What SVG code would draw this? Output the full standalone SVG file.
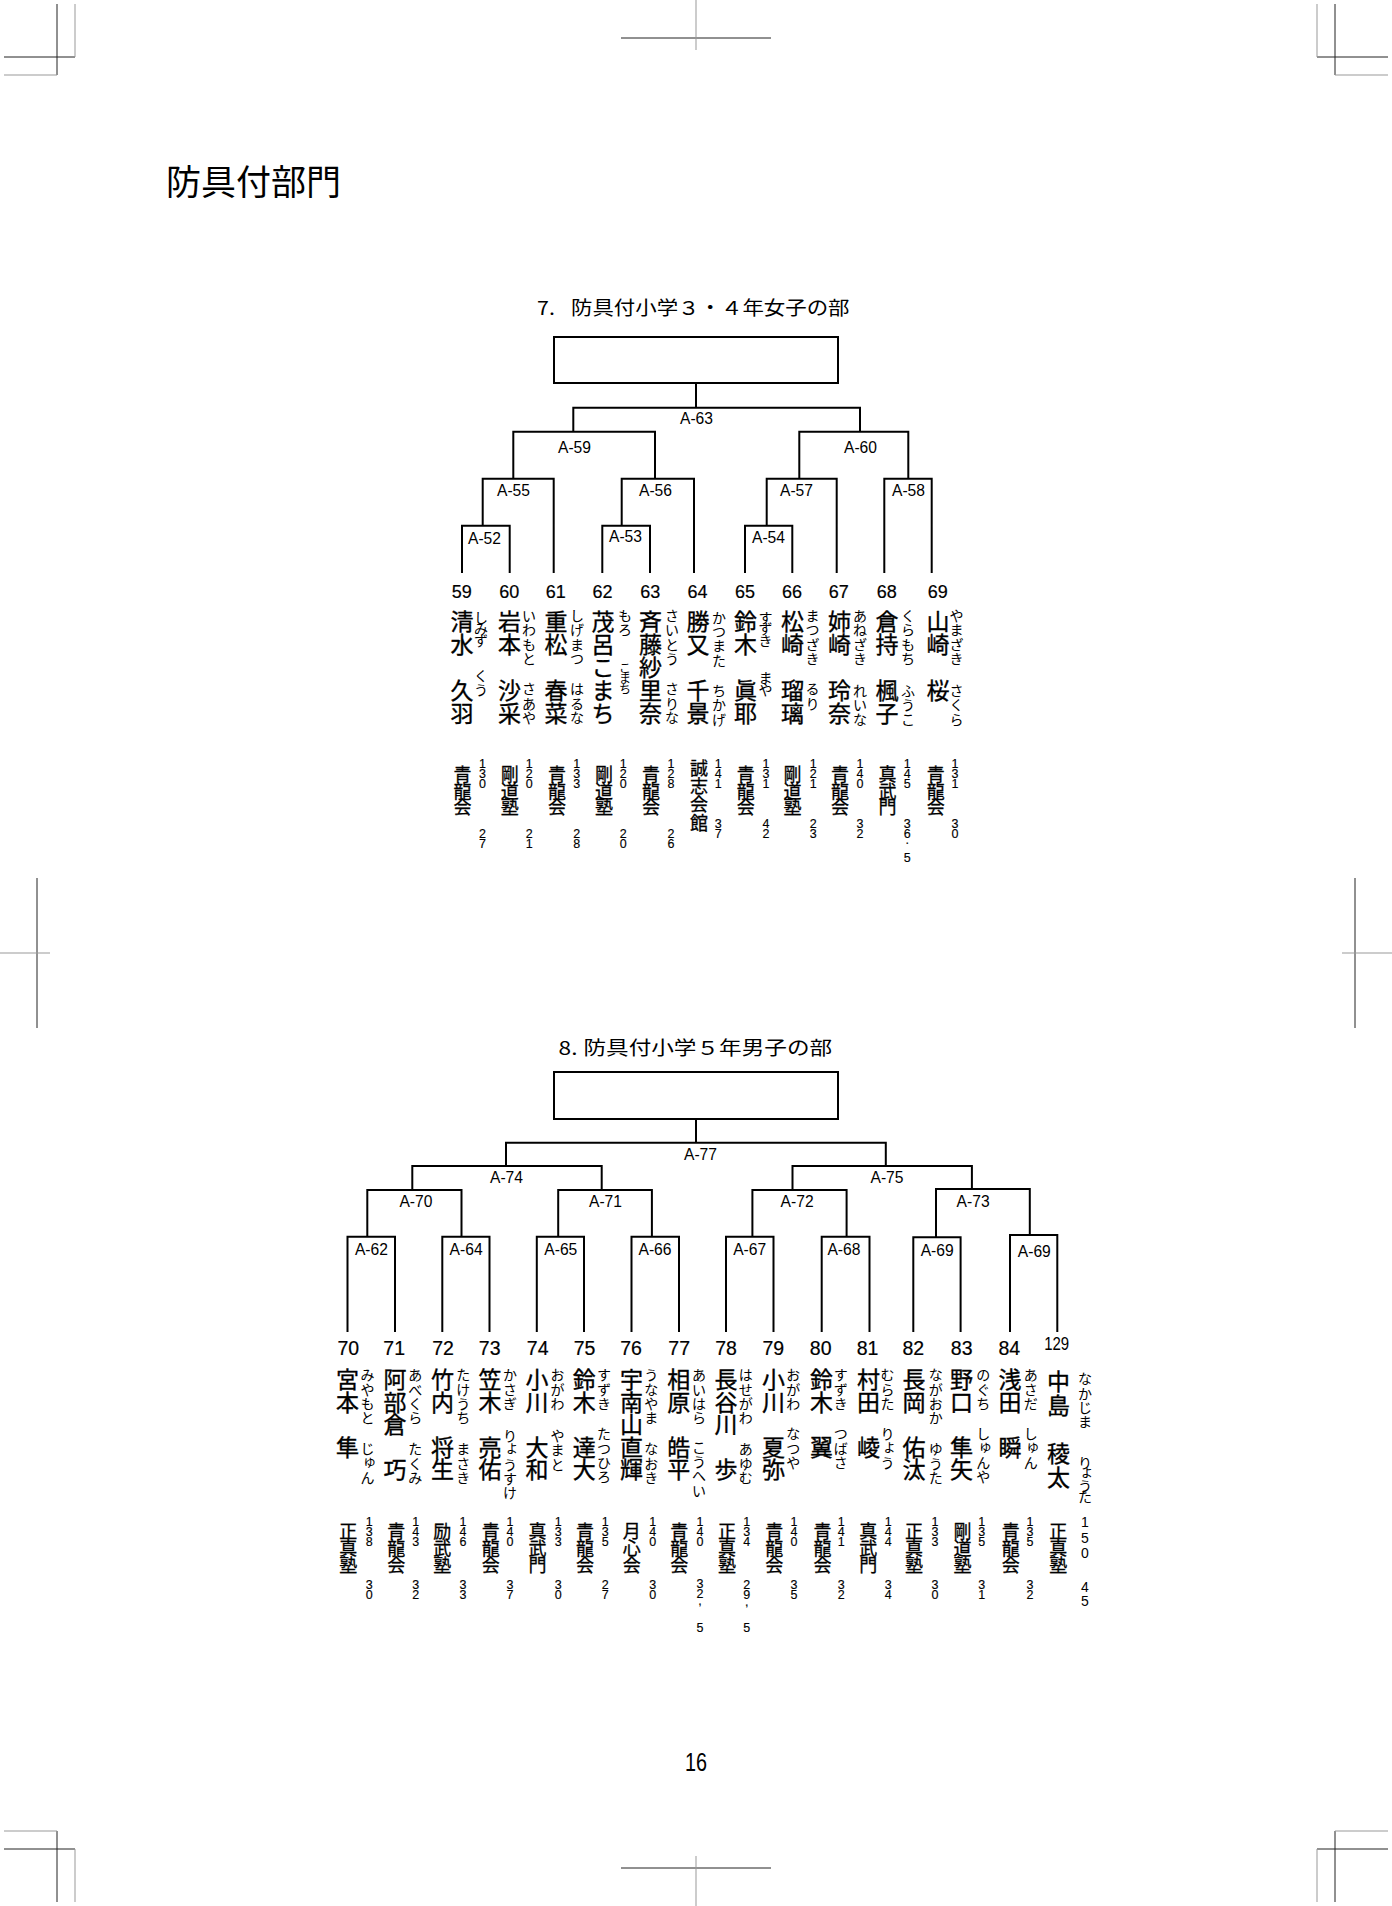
<svg xmlns="http://www.w3.org/2000/svg" width="1392" height="1906" viewBox="0 0 1392 1906">
<style>
.ln{fill:none;stroke:#000;stroke-width:2}
.cm{fill:none;stroke:#222;stroke-width:1}
.cg{fill:none;stroke:#999;stroke-width:1}
.jp{font-family:"Noto Sans CJK JP","Noto Sans CJK SC",sans-serif;fill:#000}
.nm{font-size:23px;text-anchor:middle;stroke:#000;stroke-width:0.35px}
.fu{font-size:14px;text-anchor:middle}
.cl{font-size:18px;text-anchor:middle;stroke:#000;stroke-width:0.3px}
.la{font-family:"Liberation Sans",Arial,sans-serif;fill:#000}
.dg{font-size:12.5px;text-anchor:middle;stroke:#000;stroke-width:0.15px}
.no{font-size:18px;text-anchor:middle;stroke:#000;stroke-width:0.2px}
.nb{font-size:19.5px;text-anchor:middle;stroke:#000;stroke-width:0.2px}
.lb{font-size:16px}
</style>
<rect width="1392" height="1906" fill="#fff"/>
<g id="cropmarks">
<path class="cm" d="M57,4V75M4,57H75M1335,4V75M1388,57H1317M57,1902V1831M4,1849H75M1335,1902V1831M1388,1849H1317M621,38H771M621,1868H771M37,878V1028M1355,878V1028"/>
<path class="cg" d="M75,4V57M4,75H57M1317,4V57M1388,75H1335M75,1902V1849M4,1831H57M1317,1902V1849M1388,1831H1335M696,0V50M696,1856V1906M0,953H50M1342,953H1392"/>
</g>
<g id="header"><text class="jp" font-size="35" x="166" y="194.5">防具付部門</text></g>
<g id="title7"><text class="jp" font-size="19" transform="translate(537,315) scale(1.128,1)"><tspan x="0" y="0">7.</tspan><tspan x="30.1" y="0">防具付小学３・４年女子の部</tspan></text></g>
<g id="title8"><text class="jp" font-size="19" transform="translate(558.6,1055) scale(1.19,1)"><tspan x="0" y="0">8.</tspan><tspan x="20.9" y="0">防具付小学５年男子の部</tspan></text></g>
<g id="box7"><rect class="ln" x="554" y="337" width="284" height="46"/></g>
<g id="box8"><rect class="ln" x="554" y="1072" width="284" height="47"/></g>
<g id="connectors">
<path class="ln" d="M696,383V407.7M573.3,431.7V407.7H860V431.7M513.3,478.7V431.7H655V478.7M799.3,478.7V431.7H908.3V478.7M482.7,525.7V478.7H553.7V573M621.7,525.7V478.7H694V573M766.7,525.7V478.7H836.7V573M884.3,573V478.7H931.7V573M462,573V525.7H509.7V573M602.3,573V525.7H650V573M745,573V525.7H792.3V573"/>
<path class="ln" d="M696,1119V1142.7M506,1166V1142.7H885.8V1166M412.3,1190V1166H601.7V1190M792.5,1190V1166H971.9V1189M367.3,1236.7V1190H461.5V1236.7M558.2,1236.7V1190H651.9V1236.7M752.4,1236.7V1190H846.6V1236.7M936,1237.3V1189H1029.8V1235M347.5,1332V1236.7H395V1332M442.3,1332V1236.7H489.5V1332M536.8,1332V1236.7H584V1332M631.5,1332V1236.7H679V1332M726,1332V1236.7H773.5V1332M821.7,1332V1236.7H869.5V1332M913.3,1332V1237.3H960.6V1332M1010,1332V1235H1057.3V1332"/>
</g>
<g id="labels7">
<g id="m-A63"><text class="la lb" x="680" y="423.5" textLength="33" lengthAdjust="spacingAndGlyphs">A-63</text></g>
<g id="m-A59"><text class="la lb" x="558" y="452.7" textLength="33" lengthAdjust="spacingAndGlyphs">A-59</text></g>
<g id="m-A60"><text class="la lb" x="844" y="452.7" textLength="33" lengthAdjust="spacingAndGlyphs">A-60</text></g>
<g id="m-A55"><text class="la lb" x="497" y="496" textLength="33" lengthAdjust="spacingAndGlyphs">A-55</text></g>
<g id="m-A56"><text class="la lb" x="639" y="496" textLength="33" lengthAdjust="spacingAndGlyphs">A-56</text></g>
<g id="m-A57"><text class="la lb" x="780" y="496" textLength="33" lengthAdjust="spacingAndGlyphs">A-57</text></g>
<g id="m-A58"><text class="la lb" x="892" y="496" textLength="33" lengthAdjust="spacingAndGlyphs">A-58</text></g>
<g id="m-A52"><text class="la lb" x="468" y="544.3" textLength="33" lengthAdjust="spacingAndGlyphs">A-52</text></g>
<g id="m-A53"><text class="la lb" x="609" y="541.7" textLength="33" lengthAdjust="spacingAndGlyphs">A-53</text></g>
<g id="m-A54"><text class="la lb" x="752" y="543.3" textLength="33" lengthAdjust="spacingAndGlyphs">A-54</text></g>
</g>
<g id="labels8">
<g id="m-A77"><text class="la lb" x="684" y="1160" textLength="33" lengthAdjust="spacingAndGlyphs">A-77</text></g>
<g id="m-A74"><text class="la lb" x="490" y="1183.3" textLength="33" lengthAdjust="spacingAndGlyphs">A-74</text></g>
<g id="m-A75"><text class="la lb" x="870.5" y="1183.3" textLength="33" lengthAdjust="spacingAndGlyphs">A-75</text></g>
<g id="m-A70"><text class="la lb" x="399.4" y="1207.3" textLength="33" lengthAdjust="spacingAndGlyphs">A-70</text></g>
<g id="m-A71"><text class="la lb" x="589" y="1207.3" textLength="33" lengthAdjust="spacingAndGlyphs">A-71</text></g>
<g id="m-A72"><text class="la lb" x="780.6" y="1207.3" textLength="33" lengthAdjust="spacingAndGlyphs">A-72</text></g>
<g id="m-A73"><text class="la lb" x="956.6" y="1207.3" textLength="33" lengthAdjust="spacingAndGlyphs">A-73</text></g>
<g id="m-A62"><text class="la lb" x="354.9" y="1255" textLength="33" lengthAdjust="spacingAndGlyphs">A-62</text></g>
<g id="m-A64"><text class="la lb" x="449.6" y="1255" textLength="33" lengthAdjust="spacingAndGlyphs">A-64</text></g>
<g id="m-A65"><text class="la lb" x="544.3" y="1255" textLength="33" lengthAdjust="spacingAndGlyphs">A-65</text></g>
<g id="m-A66"><text class="la lb" x="638.5" y="1255" textLength="33" lengthAdjust="spacingAndGlyphs">A-66</text></g>
<g id="m-A67"><text class="la lb" x="733.2" y="1255" textLength="33" lengthAdjust="spacingAndGlyphs">A-67</text></g>
<g id="m-A68"><text class="la lb" x="827.4" y="1255" textLength="33" lengthAdjust="spacingAndGlyphs">A-68</text></g>
<g id="m-A69a"><text class="la lb" x="920.7" y="1256" textLength="33" lengthAdjust="spacingAndGlyphs">A-69</text></g>
<g id="m-A69b"><text class="la lb" x="1017.8" y="1257.3" textLength="33" lengthAdjust="spacingAndGlyphs">A-69</text></g>
</g>
<g id="entries7">
<g id="p59">
<text class="la no" x="461.7" y="598">59</text>
<text class="jp nm" x="462 462 462 462 462" y="630 653 676 699 722">清水　久羽</text>
<text class="jp fu" x="481 481 481 481 481 481" y="622.7 634.2 645.7 660 681 695.3">しみず　くう</text>
<text class="jp cl" x="462.5 462.5 462.5" y="780.8 797.6 814.4">青龍会</text>
<text class="la dg" x="482.5 482.5 482.5 482.5 482.5 482.5" y="768.3 778.3 788.3 810 838.3 848.3">130 27</text>
</g>
<g id="p60">
<text class="la no" x="509.2" y="598">60</text>
<text class="jp nm" x="509.5 509.5 509.5 509.5 509.5" y="630 653 676 699 722">岩本　沙采</text>
<text class="jp fu" x="529 529 529 529 529 529 529 529" y="621 635.3 649.6 663.9 680 694.3 708.6 722.9">いわもと　さあや</text>
<text class="jp cl" x="509.7 509.7 509.7" y="780.8 797.6 814.4">剛道塾</text>
<text class="la dg" x="529.3 529.3 529.3 529.3 529.3 529.3" y="768.3 778.3 788.3 810 838.3 848.3">120 21</text>
</g>
<g id="p61">
<text class="la no" x="555.7" y="598">61</text>
<text class="jp nm" x="556 556 556 556 556" y="630 653 676 699 722">重松　春菜</text>
<text class="jp fu" x="577 577 577 577 577 577 577 577" y="621 635.3 649.6 663.9 680 694.3 708.6 722.9">しげまつ　はるな</text>
<text class="jp cl" x="557 557 557" y="780.8 797.6 814.4">青龍会</text>
<text class="la dg" x="576.7 576.7 576.7 576.7 576.7 576.7" y="768.3 778.3 788.3 810 838.3 848.3">133 28</text>
</g>
<g id="p62">
<text class="la no" x="602.5" y="598">62</text>
<text class="jp nm" x="603 603 603 603 603" y="630 653 676 699 722">茂呂こまち</text>
<text class="jp fu" x="625 625 625 625 625 625" y="621 635.3 650 672.8 683.3 693.8">もろ　<tspan font-size="12">こまち</tspan></text>
<text class="jp cl" x="604 604 604" y="780.8 797.6 814.4">剛道塾</text>
<text class="la dg" x="623.3 623.3 623.3 623.3 623.3 623.3" y="768.3 778.3 788.3 810 838.3 848.3">120 20</text>
</g>
<g id="p63">
<text class="la no" x="650.2" y="598">63</text>
<text class="jp nm" x="650.5 650.5 650.5 650.5 650.5" y="630 653 676 699 722">斉藤紗里奈</text>
<text class="jp fu" x="672 672 672 672 672 672 672 672" y="621 635.3 649.6 663.9 680 694.3 708.6 722.9">さいとう　さりな</text>
<text class="jp cl" x="651 651 651" y="780.8 797.6 814.4">青龍会</text>
<text class="la dg" x="671 671 671 671 671 671" y="768.3 778.3 788.3 810 838.3 848.3">128 26</text>
</g>
<g id="p64">
<text class="la no" x="697.5" y="598">64</text>
<text class="jp nm" x="698 698 698 698 698" y="630 653 676 699 722">勝又　千景</text>
<text class="jp fu" x="719 719 719 719 719 719 719 719" y="622.7 637 651.3 665.6 682 696 710.3 724.6">かつまた　ちかげ</text>
<text class="jp cl" x="699 699 699 699" y="774.6 792.9 811.2 829.5">誠志会館</text>
<text class="la dg" x="718.3 718.3 718.3 718.3 718.3 718.3" y="768.3 778.3 788.3 805 828.3 838.3">141 37</text>
</g>
<g id="p65">
<text class="la no" x="745" y="598">65</text>
<text class="jp nm" x="745.5 745.5 745.5 745.5 745.5" y="630 653 676 699 722">鈴木　眞耶</text>
<text class="jp fu" x="765.5 765.5 765.5 765.5 765.5 765.5" y="622.7 634.2 645.7 660 682.7 694.7">すずき　まや</text>
<text class="jp cl" x="745.8 745.8 745.8" y="780.8 797.6 814.4">青龍会</text>
<text class="la dg" x="766 766 766 766 766 766" y="768.3 778.3 788.3 805 828.3 838.3">131 42</text>
</g>
<g id="p66">
<text class="la no" x="792" y="598">66</text>
<text class="jp nm" x="792.5 792.5 792.5 792.5 792.5" y="630 653 676 699 722">松崎　瑠璃</text>
<text class="jp fu" x="812.5 812.5 812.5 812.5 812.5 812.5 812.5" y="621 635.3 649.6 663.9 680 694.3 708.6">まつざき　るり</text>
<text class="jp cl" x="792.5 792.5 792.5" y="780.8 797.6 814.4">剛道塾</text>
<text class="la dg" x="813.3 813.3 813.3 813.3 813.3 813.3" y="768.3 778.3 788.3 805 828.3 838.3">121 23</text>
</g>
<g id="p67">
<text class="la no" x="838.8" y="598">67</text>
<text class="jp nm" x="839.5 839.5 839.5 839.5 839.5" y="630 653 676 699 722">姉崎　玲奈</text>
<text class="jp fu" x="860 860 860 860 860 860 860 860" y="621 635.3 649.6 663.9 682 696 710.3 724.6">あねざき　れいな</text>
<text class="jp cl" x="840 840 840" y="780.8 797.6 814.4">青龍会</text>
<text class="la dg" x="860 860 860 860 860 860" y="768.3 778.3 788.3 805 828.3 838.3">140 32</text>
</g>
<g id="p68">
<text class="la no" x="886.7" y="598">68</text>
<text class="jp nm" x="887 887 887 887 887" y="630 653 676 699 722">倉持　楓子</text>
<text class="jp fu" x="908 908 908 908 908 908 908 908" y="621 635.3 649.6 663.9 682 696 710.3 724.6">くらもち　ふうこ</text>
<text class="jp cl" x="887.5 887.5 887.5" y="780.8 797.6 814.4">真武門</text>
<text class="la dg" x="907.3 907.3 907.3 907.3 907.3 907.3 907.3 907.3" y="768.3 778.3 788.3 805 828.3 838.3 843.5 861.7">145 36.5</text>
</g>
<g id="p69">
<text class="la no" x="937.8" y="598">69</text>
<text class="jp nm" x="938 938 938 938" y="630 653 676 699">山崎　桜</text>
<text class="jp fu" x="956.5 956.5 956.5 956.5 956.5 956.5 956.5 956.5" y="621 635.3 649.6 663.9 682 696 710.3 724.6">やまざき　さくら</text>
<text class="jp cl" x="935.8 935.8 935.8" y="780.8 797.6 814.4">青龍会</text>
<text class="la dg" x="955 955 955 955 955 955" y="768.3 778.3 788.3 805 828.3 838.3">131 30</text>
</g>
</g>
<g id="entries8">
<g id="p70">
<text class="la nb" x="348.3" y="1355">70</text>
<text class="jp nm" x="347.5 347.5 347.5 347.5" y="1388.2 1410.7 1433.2 1455.7">宮本　隼</text>
<text class="jp fu" x="367.5 367.5 367.5 367.5 367.5 367.5 369.5 367.5" y="1380.3 1394.6 1408.9 1423.2 1440 1454.3 1465.6 1482.9">みやもと　じゅん</text>
<text class="jp cl" x="348.3 348.3 348.3" y="1537.8 1555.1 1572.4">正真塾</text>
<text class="la dg" x="369.2 369.2 369.2 369.2 369.2 369.2" y="1525.7 1535.7 1545.7 1565 1589 1599">138 30</text>
</g>
<g id="p71">
<text class="la nb" x="394.2" y="1355">71</text>
<text class="jp nm" x="395 395 395 395 395" y="1388.2 1410.7 1433.2 1455.7 1478.2">阿部倉　巧</text>
<text class="jp fu" x="415.3 415.3 415.3 415.3 415.3 415.3 415.3 415.3" y="1380.3 1394.6 1408.9 1423.2 1440 1454.3 1468.6 1482.9">あべくら　たくみ</text>
<text class="jp cl" x="396.2 396.2 396.2" y="1537.8 1555.1 1572.4">青龍会</text>
<text class="la dg" x="415.8 415.8 415.8 415.8 415.8 415.8" y="1525.7 1535.7 1545.7 1565 1589 1599">143 32</text>
</g>
<g id="p72">
<text class="la nb" x="443" y="1355">72</text>
<text class="jp nm" x="442.5 442.5 442.5 442.5 442.5" y="1388.2 1410.7 1433.2 1455.7 1478.2">竹内　将生</text>
<text class="jp fu" x="463.3 463.3 463.3 463.3 463.3 463.3 463.3 463.3" y="1380.3 1394.6 1408.9 1423.2 1440 1454.3 1468.6 1482.9">たけうち　まさき</text>
<text class="jp cl" x="442.3 442.3 442.3" y="1537.8 1555.1 1572.4">励武塾</text>
<text class="la dg" x="463 463 463 463 463 463" y="1525.7 1535.7 1545.7 1565 1589 1599">146 33</text>
</g>
<g id="p73">
<text class="la nb" x="489.7" y="1355">73</text>
<text class="jp nm" x="490 490 490 490 490" y="1388.2 1410.7 1433.2 1455.7 1478.2">笠木　亮佑</text>
<text class="jp fu" x="510 510 510 510 510 512 510 510 510" y="1380.3 1394.6 1408.9 1425 1441 1452.3 1469.6 1483.9 1498.2">かさぎ　りょうすけ</text>
<text class="jp cl" x="490.8 490.8 490.8" y="1537.8 1555.1 1572.4">青龍会</text>
<text class="la dg" x="510 510 510 510 510 510" y="1525.7 1535.7 1545.7 1565 1589 1599">140 37</text>
</g>
<g id="p74">
<text class="la nb" x="537.7" y="1355">74</text>
<text class="jp nm" x="537 537 537 537 537" y="1388.2 1410.7 1433.2 1455.7 1478.2">小川　大和</text>
<text class="jp fu" x="557.5 557.5 557.5 557.5 557.5 557.5 557.5" y="1380.3 1394.6 1408.9 1425 1441 1455.3 1469.6">おがわ　やまと</text>
<text class="jp cl" x="537.5 537.5 537.5" y="1537.8 1555.1 1572.4">真武門</text>
<text class="la dg" x="558.3 558.3 558.3 558.3 558.3 558.3" y="1525.7 1535.7 1545.7 1565 1589 1599">133 30</text>
</g>
<g id="p75">
<text class="la nb" x="584.5" y="1355">75</text>
<text class="jp nm" x="584.2 584.2 584.2 584.2 584.2" y="1388.2 1410.7 1433.2 1455.7 1478.2">鈴木　達大</text>
<text class="jp fu" x="604 604 604 604 604 604 604 604" y="1380.3 1394.6 1408.9 1425 1439.3 1453.6 1467.9 1482.2">すずき　たつひろ</text>
<text class="jp cl" x="585 585 585" y="1537.8 1555.1 1572.4">青龍会</text>
<text class="la dg" x="605.3 605.3 605.3 605.3 605.3 605.3" y="1525.7 1535.7 1545.7 1565 1589 1599">135 27</text>
</g>
<g id="p76">
<text class="la nb" x="631" y="1355">76</text>
<text class="jp nm" x="631.6 631.6 631.6 631.6 631.6" y="1388.2 1410.7 1433.2 1455.7 1478.2">宇南山直輝</text>
<text class="jp fu" x="651.3 651.3 651.3 651.3 651.3 651.3 651.3 651.3" y="1380.3 1394.6 1408.9 1423.2 1440 1454.3 1468.6 1482.9">うなやま　なおき</text>
<text class="jp cl" x="631.7 631.7 631.7" y="1537.8 1555.1 1572.4">月心会</text>
<text class="la dg" x="652.7 652.7 652.7 652.7 652.7 652.7" y="1525.7 1535.7 1545.7 1565 1589 1599">140 30</text>
</g>
<g id="p77">
<text class="la nb" x="679.2" y="1355">77</text>
<text class="jp nm" x="678.7 678.7 678.7 678.7 678.7" y="1388.2 1410.7 1433.2 1455.7 1478.2">相原　皓平</text>
<text class="jp fu" x="699 699 699 699 699 699 699 699 699" y="1380.3 1394.6 1408.9 1423.2 1438 1452.7 1467 1481.3 1495.6">あいはら　こうへい</text>
<text class="jp cl" x="679.2 679.2 679.2" y="1537.8 1555.1 1572.4">青龍会</text>
<text class="la dg" x="700 700 700 700 700 700 700 700" y="1525.7 1535.7 1545.7 1565 1588 1598 1604.5 1631.7">140 32,5</text>
</g>
<g id="p78">
<text class="la nb" x="726" y="1355">78</text>
<text class="jp nm" x="726 726 726 726 726" y="1388.2 1410.7 1433.2 1455.7 1478.2">長谷川　歩</text>
<text class="jp fu" x="745.8 745.8 745.8 745.8 745.8 745.8 745.8 745.8" y="1380.3 1394.6 1408.9 1423.2 1440 1454.3 1468.6 1482.9">はせがわ　あゆむ</text>
<text class="jp cl" x="727 727 727" y="1537.8 1555.1 1572.4">正真塾</text>
<text class="la dg" x="746.7 746.7 746.7 746.7 746.7 746.7 746.7 746.7" y="1525.7 1535.7 1545.7 1565 1589 1599 1606 1631.7">134 29,5</text>
</g>
<g id="p79">
<text class="la nb" x="773.3" y="1355">79</text>
<text class="jp nm" x="773.6 773.6 773.6 773.6 773.6" y="1388.2 1410.7 1433.2 1455.7 1478.2">小川　夏弥</text>
<text class="jp fu" x="793.3 793.3 793.3 793.3 793.3 793.3 793.3" y="1380.3 1394.6 1408.9 1425 1439.3 1453.6 1467.9">おがわ　なつや</text>
<text class="jp cl" x="774.2 774.2 774.2" y="1537.8 1555.1 1572.4">青龍会</text>
<text class="la dg" x="794 794 794 794 794 794" y="1525.7 1535.7 1545.7 1565 1589 1599">140 35</text>
</g>
<g id="p80">
<text class="la nb" x="820.7" y="1355">80</text>
<text class="jp nm" x="821.5 821.5 821.5 821.5" y="1388.2 1410.7 1433.2 1455.7">鈴木　翼</text>
<text class="jp fu" x="840.8 840.8 840.8 840.8 840.8 840.8 840.8" y="1380.3 1394.6 1408.9 1425 1439.3 1453.6 1467.9">すずき　つばさ</text>
<text class="jp cl" x="822.5 822.5 822.5" y="1537.8 1555.1 1572.4">青龍会</text>
<text class="la dg" x="841.2 841.2 841.2 841.2 841.2 841.2" y="1525.7 1535.7 1545.7 1565 1589 1599">141 32</text>
</g>
<g id="p81">
<text class="la nb" x="867.5" y="1355">81</text>
<text class="jp nm" x="868.5 868.5 868.5 868.5" y="1388.2 1410.7 1433.2 1455.7">村田　崚</text>
<text class="jp fu" x="887.5 887.5 887.5 887.5 887.5 889.5 887.5" y="1380.3 1394.6 1408.9 1425 1439.3 1450.6 1467.9">むらた　りょう</text>
<text class="jp cl" x="868.3 868.3 868.3" y="1537.8 1555.1 1572.4">真武門</text>
<text class="la dg" x="888.3 888.3 888.3 888.3 888.3 888.3" y="1525.7 1535.7 1545.7 1565 1589 1599">144 34</text>
</g>
<g id="p82">
<text class="la nb" x="913.3" y="1355">82</text>
<text class="jp nm" x="914 914 914 914 914" y="1388.2 1410.7 1433.2 1455.7 1478.2">長岡　佑汰</text>
<text class="jp fu" x="935.8 935.8 935.8 935.8 935.8 935.8 935.8 935.8" y="1380.3 1394.6 1408.9 1423.2 1440 1454.3 1468.6 1482.9">ながおか　ゆうた</text>
<text class="jp cl" x="914 914 914" y="1537.8 1555.1 1572.4">正真塾</text>
<text class="la dg" x="935 935 935 935 935 935" y="1525.7 1535.7 1545.7 1565 1589 1599">133 30</text>
</g>
<g id="p83">
<text class="la nb" x="961.7" y="1355">83</text>
<text class="jp nm" x="961.5 961.5 961.5 961.5 961.5" y="1388.2 1410.7 1433.2 1455.7 1478.2">野口　隼矢</text>
<text class="jp fu" x="983.3 983.3 983.3 983.3 983.3 985.3 983.3 983.3" y="1380.3 1394.6 1408.9 1425 1439.3 1450.6 1467.9 1482.2">のぐち　しゅんや</text>
<text class="jp cl" x="962.5 962.5 962.5" y="1537.8 1555.1 1572.4">剛道塾</text>
<text class="la dg" x="981.7 981.7 981.7 981.7 981.7 981.7" y="1525.7 1535.7 1545.7 1565 1589 1599">135 31</text>
</g>
<g id="p84">
<text class="la nb" x="1009.3" y="1355">84</text>
<text class="jp nm" x="1010 1010 1010 1010" y="1388.2 1410.7 1433.2 1455.7">浅田　瞬</text>
<text class="jp fu" x="1030.8 1030.8 1030.8 1030.8 1030.8 1032.8 1030.8" y="1380.3 1394.6 1408.9 1425 1439.3 1450.6 1467.9">あさだ　しゅん</text>
<text class="jp cl" x="1010.8 1010.8 1010.8" y="1537.8 1555.1 1572.4">青龍会</text>
<text class="la dg" x="1030 1030 1030 1030 1030 1030" y="1525.7 1535.7 1545.7 1565 1589 1599">135 32</text>
</g>
<g id="p129">
<text class="la" font-size="18" text-anchor="middle" x="1056.7" y="1350" textLength="25" lengthAdjust="spacingAndGlyphs">129</text>
<text class="jp nm" font-size="24.5" x="1058.5 1058.5 1058.5 1058.5 1058.5" y="1389.9 1413.9 1437.9 1461.9 1485.9">中島　稜太</text>
<text class="jp fu" x="1085 1085 1085 1085 1085 1085 1087 1085 1085" y="1384.3 1398.6 1412.9 1427.2 1445 1467.7 1476.2 1490.7 1502.2">なかじま　りょうた</text>
<text class="jp cl" x="1058.3 1058.3 1058.3" y="1537.8 1555.1 1572.4">正真塾</text>
<text class="la" font-size="14" text-anchor="middle" x="1085 1085 1085 1085 1085 1085" y="1526.7 1543.3 1558.3 1575 1591.7 1606">150 45</text>
</g>
</g>
<g id="pagenum"><text class="la" font-size="26" x="696" y="1770.7" text-anchor="middle" textLength="22" lengthAdjust="spacingAndGlyphs">16</text></g>
</svg>
